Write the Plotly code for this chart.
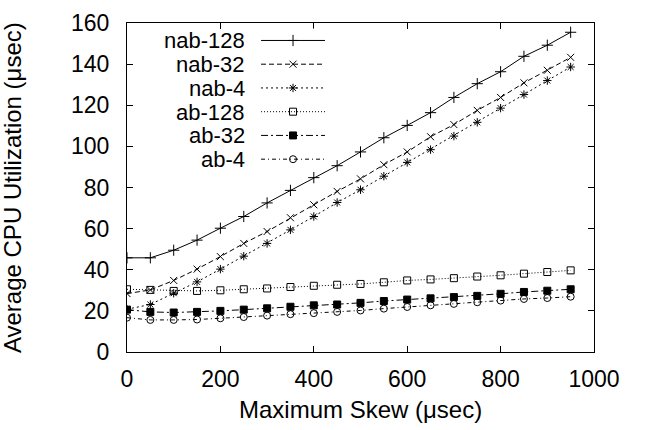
import plotly.graph_objects as go

skew = [0, 50, 100, 150, 200, 250, 300, 350, 400, 450, 500, 550, 600, 650, 700, 750, 800, 850, 900, 950]

nab_128 = [45.8, 45.8, 49.5, 54.4, 60.2, 65.9, 72.5, 78.6, 84.8, 90.6, 97.3, 104.2, 110.2, 116.4, 123.8, 130.5, 136.3, 143.8, 149.2, 155.5]
nab_32 = [28.4, 30.2, 34.8, 40.3, 46.4, 52.8, 58.6, 65.3, 71.6, 78.1, 84.2, 91.1, 97.3, 104.7, 110.6, 117.5, 123.8, 130.9, 137.0, 143.3]
nab_4 = [20.8, 23.1, 28.6, 34.1, 40.3, 46.6, 52.8, 59.4, 65.9, 72.7, 78.9, 85.5, 92.2, 98.4, 105.0, 111.7, 118.6, 125.2, 132.0, 138.6]
ab_128 = [30.5, 30.2, 29.7, 29.7, 30.0, 30.5, 30.9, 31.6, 32.2, 32.7, 33.1, 33.9, 34.8, 35.3, 35.9, 36.7, 37.3, 38.1, 38.9, 39.7]
ab_32 = [20.6, 19.5, 19.2, 19.5, 20.0, 20.6, 21.25, 22.0, 22.7, 23.1, 23.9, 24.8, 25.5, 26.1, 26.7, 27.3, 28.3, 29.2, 29.8, 30.5]
ab_4 = [16.7, 15.6, 15.6, 15.8, 16.4, 17.0, 17.7, 18.4, 18.9, 19.5, 20.2, 21.1, 21.9, 22.7, 23.4, 24.2, 25.0, 25.8, 26.25, 26.9]

series_names = ["nab-128", "nab-32", "nab-4", "ab-128", "ab-32", "ab-4"]
series_values = [nab_128, nab_32, nab_4, ab_128, ab_32, ab_4]

x_ticks = [0, 200, 400, 600, 800, 1000]
y_ticks = [0, 20, 40, 60, 80, 100, 120, 140, 160]

styles = [
    dict(dash="solid", symbol="cross-thin-open", size=8),
    dict(dash="5px,3px", symbol="x-thin-open", size=7),
    dict(dash="2px,3px", symbol="asterisk-open", size=7),
    dict(dash="1px,2px", symbol="square-open", size=7),
    dict(dash="7px,3px,2px,3px", symbol="square", size=7),
    dict(dash="4px,3px,1px,3px", symbol="circle-open", size=7),
]

FONT = "Liberation Sans, Arial, Helvetica, sans-serif"
INK = "#000000"

fig = go.Figure()

for name, vals, st in zip(series_names, series_values, styles):
    fig.add_trace(go.Scatter(
        x=skew, y=vals, name=name, mode="lines+markers",
        line=dict(color=INK, width=1, dash=st["dash"]),
        marker=dict(symbol=st["symbol"], size=st["size"], color=INK,
                    line=dict(color=INK, width=1)),
        showlegend=False,
    ))

# custom legend (text right-aligned, key sample to the right)
for i, (name, st) in enumerate(zip(series_names, styles)):
    fig.add_trace(go.Scatter(
        x=[0, 1], y=[i, i], mode="lines", xaxis="x2", yaxis="y2",
        line=dict(color=INK, width=1, dash=st["dash"]),
        showlegend=False, hoverinfo="skip",
    ))
    fig.add_trace(go.Scatter(
        x=[0.5], y=[i], mode="markers", xaxis="x2", yaxis="y2",
        marker=dict(symbol=st["symbol"], size=st["size"], color=INK,
                    line=dict(color=INK, width=1)),
        showlegend=False, hoverinfo="skip",
    ))
    fig.add_annotation(
        x=0.255, y=i, xref="paper", yref="y2", text=name, showarrow=False,
        xanchor="right", yanchor="middle", height=22, borderpad=0,
        font=dict(family=FONT, size=22, color=INK),
    )

axis_common = dict(
    showgrid=False, zeroline=False, showline=True, linecolor=INK, linewidth=1,
    mirror="ticks", ticks="inside", ticklen=6, tickwidth=1, tickcolor=INK,
    tickfont=dict(family=FONT, size=23, color=INK), ticklabeloverflow="allow",
)

fig.update_layout(
    width=645, height=430,
    margin=dict(l=127, r=51, t=10, b=78),
    paper_bgcolor="white", plot_bgcolor="white",
    showlegend=False,
    xaxis=dict(range=[0, 1000], tickvals=x_ticks, ticklabelstandoff=6, **axis_common),
    yaxis=dict(range=[0, 160], tickvals=y_ticks, ticklabelstandoff=12, **axis_common),
    xaxis2=dict(domain=[0.287, 0.424], range=[0, 1], visible=False, anchor="y2"),
    yaxis2=dict(domain=[0.55, 0.983], range=[5.5, -0.5], visible=False, anchor="x2"),
)

fig.add_annotation(
    x=0.5, y=-0.175, xref="paper", yref="paper", text="Maximum Skew (μsec)",
    showarrow=False, xanchor="center", yanchor="middle",
    font=dict(family=FONT, size=24, color=INK),
)
fig.add_annotation(
    x=-0.245, y=0.5, xref="paper", yref="paper", text="Average CPU Utilization (μsec)",
    showarrow=False, xanchor="center", yanchor="middle", textangle=-90,
    font=dict(family=FONT, size=24, color=INK),
)

fig.write_html(
    "out.html",
    config={"displayModeBar": False, "staticPlot": True},
    post_script="document.body.style.margin='0';document.body.style.overflow='hidden';",
)
